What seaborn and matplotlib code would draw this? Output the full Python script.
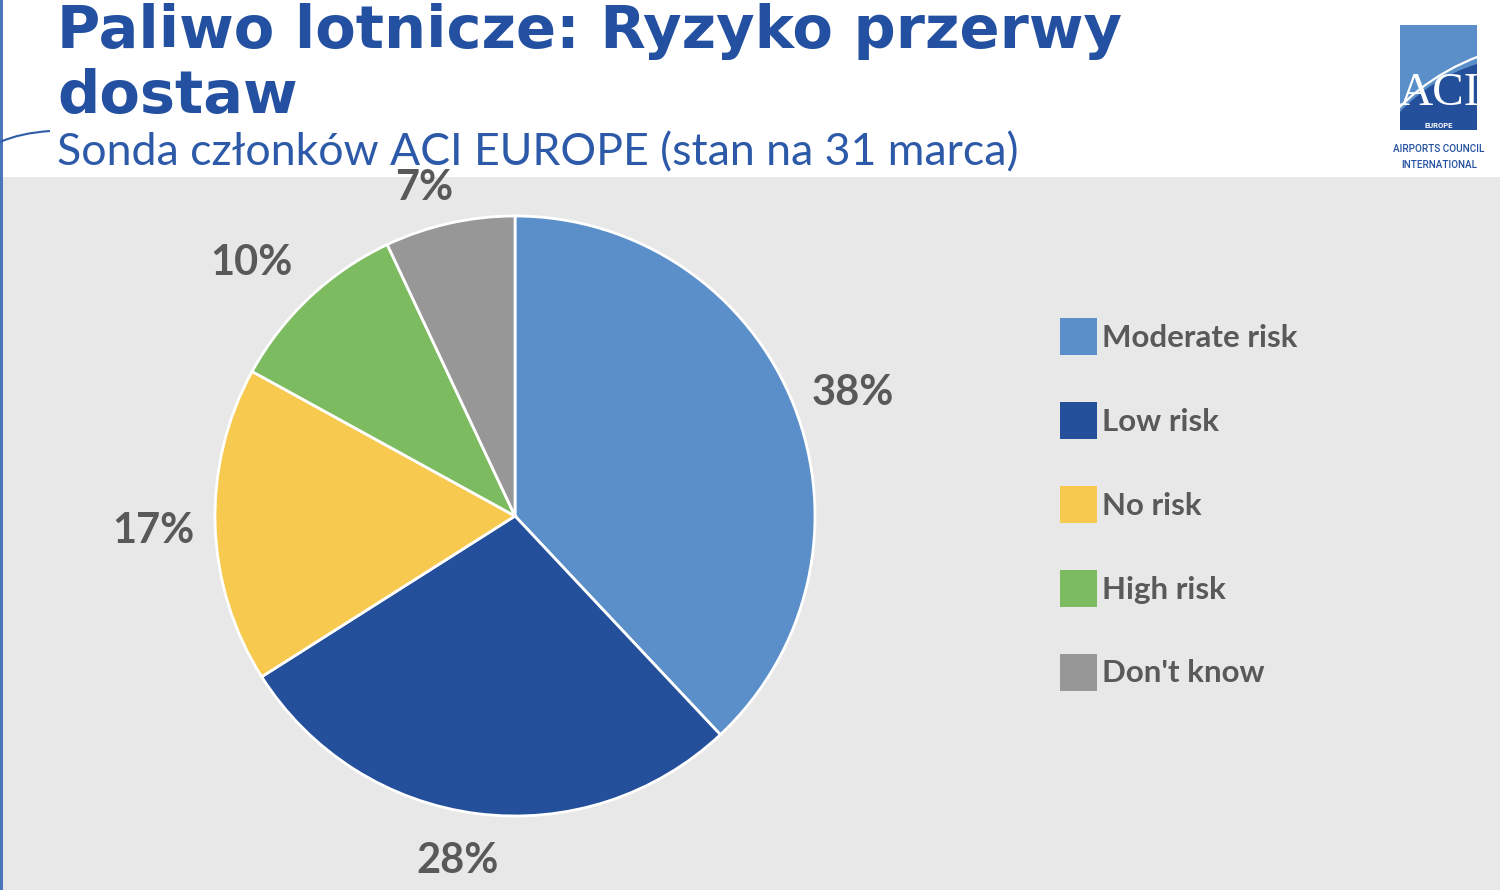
import matplotlib
matplotlib.use("Agg")
import numpy as np
import matplotlib.pyplot as plt
import seaborn as sns
from matplotlib.patches import Rectangle, Patch, PathPatch
from matplotlib.path import Path

# ---- data ----
categories = ["Moderate risk", "Low risk", "No risk", "High risk", "Don't know"]
values = [38, 28, 17, 10, 7]
colors = ["#5B8FC9", "#234F9B", "#F7C94E", "#7CBB5F", "#979797"]
title_text = "Paliwo lotnicze: Ryzyko przerwy\ndostaw"
subtitle_text = "Sonda członków ACI EUROPE (stan na 31 marca)"

# label placement (layout only): radial factor and angle shift (deg)
label_r = [1.202, 1.156, 1.207, 1.223, 1.145]
label_dang = [-1.2, -2.4, 0.1, 2.6, 2.8]

sns.set_theme(style="white")
plt.rcParams["font.family"] = ["Lato", "DejaVu Sans"]

W, H = 1500, 890
fig = plt.figure(figsize=(W / 100, H / 100), dpi=100)
fig.patch.set_facecolor("white")

def fx(px):
    return px / W

def fy(py):
    return 1 - py / H

# grey panel
fig.add_artist(Rectangle((fx(3), 0), 1 - fx(3), fy(177), transform=fig.transFigure,
                         facecolor="#E8E8E8", edgecolor="none", zorder=0))
# left edge blue line
fig.add_artist(Rectangle((0, 0), fx(2.5), 1, transform=fig.transFigure,
                         facecolor="#4A76BC", edgecolor="none", zorder=1))
sw = Path([(fx(0), fy(142)), (fx(20), fy(133)), (fx(50), fy(131))],
          [Path.MOVETO, Path.CURVE3, Path.CURVE3])
fig.add_artist(PathPatch(sw, transform=fig.transFigure, facecolor="none",
                         edgecolor="#2F5DA8", lw=1.5, zorder=2))

def fit_text(x, y, s, target_w, **kw):
    t = fig.text(x, y, s, **kw)
    fig.canvas.draw()
    r = fig.canvas.get_renderer()
    w = t.get_window_extent(r).width
    t.set_fontsize(t.get_fontsize() * target_w / w)
    return t

# ---- title ----
lines = title_text.split("\n")
t1 = fit_text(fx(57), fy(48), lines[0], 1066, fontsize=48, fontweight="bold",
              color="#2350A0", va="baseline", ha="left",
              family=["DejaVu Sans"], zorder=5)
fig.text(fx(57), fy(113), lines[1], fontsize=t1.get_fontsize(), fontweight="bold",
         color="#2350A0", va="baseline", ha="left", family=["DejaVu Sans"], zorder=5)
fit_text(fx(57), fy(165), subtitle_text, 961, fontsize=30, fontweight="normal",
         color="#2D5AA8", va="baseline", ha="left",
         family=["Lato", "DejaVu Sans"], zorder=5)

# ---- pie ----
cx, cy, R = 515, 516, 300
ax = fig.add_axes([fx(cx - R), fy(cy + R), 2 * R / W, 2 * R / H])
ax.set_facecolor("none")
wedges, texts, autotexts = ax.pie(
    values, colors=sns.color_palette(colors), startangle=90, counterclock=False,
    radius=1, wedgeprops=dict(edgecolor="white", linewidth=2),
    autopct=lambda p: f"{p:.0f}%", pctdistance=1.2,
    textprops=dict(color="#595959", fontsize=30, fontweight="bold"))
for w, t, rf, da in zip(wedges, autotexts, label_r, label_dang):
    ang = np.deg2rad((w.theta1 + w.theta2) / 2 + da)
    t.set_position((rf * np.cos(ang), rf * np.sin(ang) - 15 / R))
    t.set_va("baseline")
    t.set_ha("center")
    t.set_clip_on(False)
    t.set_zorder(10)
ax.set_xlim(-1, 1)
ax.set_ylim(-1, 1)
ax.set_aspect("equal")
ax.axis("off")

# ---- legend ----
handles = [Patch(facecolor=c, edgecolor="none", label=l) for c, l in zip(colors, categories)]
leg = fig.legend(handles=handles, loc="upper left", bbox_to_anchor=(fx(1060), fy(318)),
                 frameon=False, fontsize=22.5, handlelength=1.18, handleheight=1.445,
                 labelspacing=1.5, handletextpad=0.15, borderpad=0, borderaxespad=0)
for t in leg.get_texts():
    t.set_color("#595959")
    t.set_fontweight("bold")

# ---- logo ----
lx0, lx1, ly0, ly1 = 1400, 1477, 25, 130
fig.add_artist(Rectangle((fx(lx0), fy(ly1)), fx(lx1) - fx(lx0), fy(ly0) - fy(ly1),
                         transform=fig.transFigure, facecolor="#5B8FC9",
                         edgecolor="none", zorder=3))
dark = Path([(fx(lx0), fy(ly1)), (fx(lx0), fy(112)), (fx(1432), fy(78)),
             (fx(lx1), fy(64)), (fx(lx1), fy(ly1)), (fx(lx0), fy(ly1))],
            [Path.MOVETO, Path.LINETO, Path.CURVE3, Path.CURVE3, Path.LINETO,
             Path.CLOSEPOLY])
fig.add_artist(PathPatch(dark, transform=fig.transFigure, facecolor="#234F9B",
                         edgecolor="none", zorder=4))
fig.text(fx(1439), fy(105), "ACI", fontsize=34, color="white", ha="center",
         va="baseline", family=["Liberation Serif", "DejaVu Serif"], zorder=6)
swoosh = Path([(fx(1383), fy(126)), (fx(1425), fy(72)), (fx(1497), fy(50))],
              [Path.MOVETO, Path.CURVE3, Path.CURVE3])
fig.add_artist(PathPatch(swoosh, transform=fig.transFigure, facecolor="none",
                         edgecolor="white", lw=1.6, zorder=7))
fig.text(fx(1439), fy(128), "EUROPE", fontsize=5.5, color="white", ha="center",
         va="baseline", family=["Roboto", "DejaVu Sans"], fontweight="bold", zorder=8)
fit_text(fx(1438.5), fy(152), "AIRPORTS COUNCIL", 91, fontsize=9, color="#2350A0",
         ha="center", va="baseline", family=["Roboto", "DejaVu Sans"],
         fontweight="medium", zorder=8)
fit_text(fx(1439.5), fy(168), "INTERNATIONAL", 75, fontsize=9, color="#2350A0",
         ha="center", va="baseline", family=["Roboto", "DejaVu Sans"],
         fontweight="medium", zorder=8)

fig.savefig("out.png", dpi=100, facecolor=fig.get_facecolor())
